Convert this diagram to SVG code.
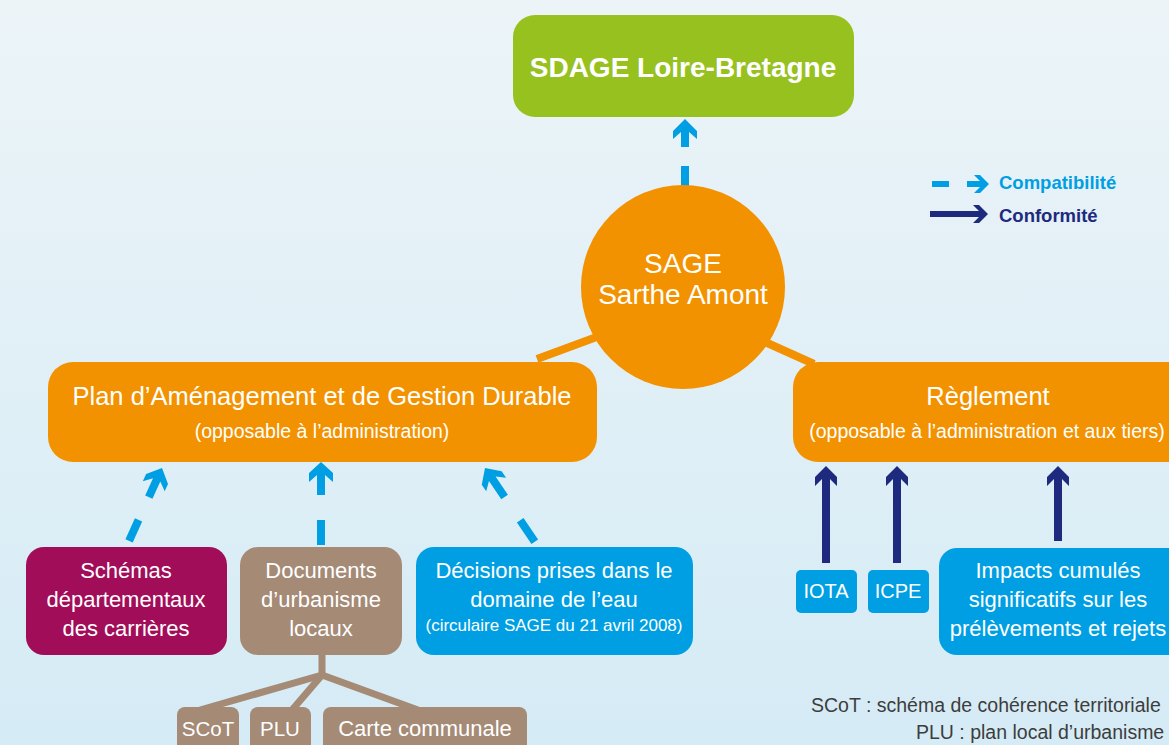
<svg xmlns="http://www.w3.org/2000/svg" width="1169" height="745" viewBox="0 0 1169 745">
  <defs>
    <linearGradient id="bg" x1="0" y1="0" x2="0" y2="1">
      <stop offset="0" stop-color="#ecf4f8"/>
      <stop offset="1" stop-color="#d5ebf5"/>
    </linearGradient>
    <style>
      .t { font-family: "Liberation Sans", Arial, sans-serif; fill: #ffffff; text-anchor: middle; }
      .green { fill: #97c11f; }
      .orange { fill: #f39200; }
      .blue { fill: #009fe3; }
      .navy { fill: #1d2a7e; }
      .magenta { fill: #a20d59; }
      .taupe { fill: #a58a76; }
      .title { font-size: 25.5px; }
      .sub { font-size: 19.5px; }
      .box { font-size: 22px; }
      .leaf { font-size: 20.5px; }
      .small { font-size: 17px; }
      .legend { font-family: "Liberation Sans", Arial, sans-serif; font-weight: bold; font-size: 18.5px; }
      .note { font-family: "Liberation Sans", Arial, sans-serif; font-size: 19.5px; fill: #3d3d3d; }
      .orangeLine { stroke: #f39200; stroke-width: 8; fill: none; }
      .brownLine { stroke: #a58a76; stroke-width: 7; fill: none; stroke-linejoin: round; }
    </style>
  </defs>

  <rect x="0" y="0" width="1169" height="745" fill="url(#bg)"/>

  <g id="connectors">
    <!-- circle to boxes -->
    <line class="orangeLine" x1="537" y1="359" x2="602" y2="335"/>
    <line class="orangeLine" x1="765" y1="342" x2="814" y2="364"/>
    <!-- SAGE -> SDAGE (compatibility) -->
    <g class="blue" transform="translate(685,119)">
      <path d="M0,0 L12,12 L12,20 L4,13 L4,28 L-4,28 L-4,13 L-12,20 L-12,12 Z"/>
      <rect x="-4" y="47" width="8" height="20"/>
    </g>
    <!-- Schémas -> PAGD -->
    <g class="blue" transform="translate(162,468) rotate(24.3)">
      <path d="M0,0 L12,12 L12,20 L4,13 L4,32 L-4,32 L-4,13 L-12,20 L-12,12 Z"/>
      <rect x="-4" y="57" width="8" height="23"/>
    </g>
    <!-- Documents -> PAGD -->
    <g class="blue" transform="translate(321,462)">
      <path d="M0,0 L12,11 L12,20 L4,13 L4,33 L-4,33 L-4,13 L-12,20 L-12,11 Z"/>
      <rect x="-4" y="58" width="8" height="25"/>
    </g>
    <!-- Décisions -> PAGD -->
    <g class="blue" transform="translate(485,468) rotate(-34)">
      <path d="M0,0 L12,12 L12,20 L4,13 L4,35 L-4,35 L-4,13 L-12,20 L-12,12 Z"/>
      <rect x="-4" y="63" width="8" height="26"/>
    </g>
    <!-- IOTA -> Règlement -->
    <path class="navy" transform="translate(826,466)" d="M0,0 L11,11 L11,20 L4,13 L4,97 L-4,97 L-4,13 L-11,20 L-11,11 Z"/>
    <!-- ICPE -> Règlement -->
    <path class="navy" transform="translate(897,466)" d="M0,0 L11,11 L11,20 L4,13 L4,97 L-4,97 L-4,13 L-11,20 L-11,11 Z"/>
    <!-- Impacts -> Règlement -->
    <path class="navy" transform="translate(1058,466)" d="M0,0 L11,11 L11,20 L4,13 L4,75 L-4,75 L-4,13 L-11,20 L-11,11 Z"/>
    <!-- Documents tree -->
    <path class="brownLine" d="M322,652 L322,675 L200,710"/>
    <path class="brownLine" d="M322,675 L292,710"/>
    <path class="brownLine" d="M322,675 L418,710"/>
  </g>

  <g id="sdage">
    <rect class="green" x="513" y="15" width="341" height="102" rx="22"/>
    <text class="t" x="683" y="77" font-size="28" font-weight="bold">SDAGE Loire-Bretagne</text>
  </g>

  <g id="sage">
    <circle class="orange" cx="683" cy="287" r="102"/>
    <text class="t" x="683" y="273" font-size="28">SAGE</text>
    <text class="t" x="683" y="304" font-size="28">Sarthe Amont</text>
  </g>

  <g id="pagd">
    <rect class="orange" x="48" y="362" width="549" height="100" rx="25"/>
    <text class="t title" x="322" y="405">Plan d’Aménagement et de Gestion Durable</text>
    <text class="t sub" x="322" y="438">(opposable à l’administration)</text>
  </g>

  <g id="reglement">
    <rect class="orange" x="793" y="362" width="400" height="100" rx="25"/>
    <text class="t title" x="988" y="405">Règlement</text>
    <text class="t sub" x="987" y="438">(opposable à l’administration et aux tiers)</text>
  </g>

  <g id="schemas">
    <rect class="magenta" x="26" y="547" width="201" height="108" rx="18"/>
    <text class="t box" x="126" y="578">Schémas</text>
    <text class="t box" x="126" y="607">départementaux</text>
    <text class="t box" x="126" y="636">des carrières</text>
  </g>

  <g id="documents">
    <rect class="taupe" x="240" y="547" width="162" height="108" rx="18"/>
    <text class="t box" x="321" y="578">Documents</text>
    <text class="t box" x="321" y="607">d’urbanisme</text>
    <text class="t box" x="321" y="636">locaux</text>
  </g>

  <g id="decisions">
    <rect class="blue" x="416" y="547" width="277" height="108" rx="18"/>
    <text class="t box" x="554" y="578">Décisions prises dans le</text>
    <text class="t box" x="554" y="607">domaine de l’eau</text>
    <text class="t small" x="554" y="631">(circulaire SAGE du 21 avril 2008)</text>
  </g>

  <g id="iota">
    <rect class="blue" x="796" y="570" width="61" height="43" rx="5"/>
    <text class="t" x="826" y="598" font-size="20">IOTA</text>
  </g>

  <g id="icpe">
    <rect class="blue" x="868" y="570" width="61" height="43" rx="5"/>
    <text class="t" x="898" y="598" font-size="20">ICPE</text>
  </g>

  <g id="impacts">
    <rect class="blue" x="939" y="548" width="260" height="107" rx="18"/>
    <text class="t box" x="1058" y="578">Impacts cumulés</text>
    <text class="t box" x="1058" y="607">significatifs sur les</text>
    <text class="t box" x="1058" y="636">prélèvements et rejets</text>
  </g>

  <g id="scot">
    <rect class="taupe" x="177" y="707" width="62" height="50" rx="8"/>
    <text class="t leaf" x="208" y="736">SCoT</text>
  </g>

  <g id="plu">
    <rect class="taupe" x="250" y="707" width="61" height="50" rx="8"/>
    <text class="t leaf" x="280" y="736">PLU</text>
  </g>

  <g id="carte">
    <rect class="taupe" x="323" y="707" width="204" height="50" rx="8"/>
    <text class="t box" x="425" y="736">Carte communale</text>
  </g>

  <g id="legend">
    <rect class="blue" x="932" y="181" width="17" height="6"/>
    <path class="blue" d="M989,184 L980,175 L974,175 L980,181 L967,181 L967,187 L980,187 L974,193 L980,193 Z"/>
    <text class="legend" x="999" y="189" fill="#009fe3">Compatibilité</text>
    <path class="navy" d="M988,214 L979,205 L973,205 L979,211 L930,211 L930,217 L979,217 L973,223 L979,223 Z"/>
    <text class="legend" x="999" y="222" fill="#1d2a7e">Conformité</text>
  </g>

  <g id="notes">
    <text class="note" x="811" y="712">SCoT : schéma de cohérence territoriale</text>
    <text class="note" x="916" y="739">PLU : plan local d’urbanisme</text>
  </g>
</svg>
